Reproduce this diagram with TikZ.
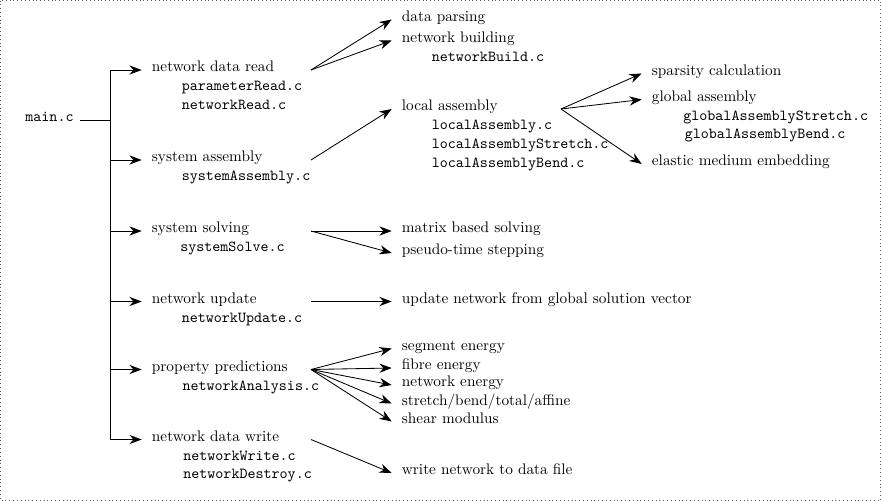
\documentclass[tikz,border=0pt]{standalone}
\usepackage{tikz}
\usetikzlibrary{arrows.meta}
\tikzset{
  task/.style={anchor=west, inner xsep=6.5pt, inner ysep=0pt, text height=5pt, text depth=3pt},
  srcfile/.style={anchor=base west, inner sep=0pt, font=\ttfamily},
  fwd/.style={-{Stealth[length=8pt, width=6pt]}, line width=0.55pt},
  trunkline/.style={line width=0.55pt},
  pageframe/.style={dotted, draw=black!65, line width=0.5pt},
}

\begin{document}
\begin{tikzpicture}[x=0.6536pt, y=-0.6536pt]
  \useasboundingbox (0,0) rectangle (881,501);
  \draw[pageframe] (0.5,0.5) rectangle (880.5,500.5);

  % main program
  \node[task, anchor=east, font=\ttfamily, inner xsep=4pt] (main) at (80,120) {main.c};
  \coordinate (trunk) at (110,120);
  \coordinate (forkline) at (311,0);
  \coordinate (subfork) at (561,0);

  % first level
  \node[task] (read) at (141.7,70) {network data read};
  \node[srcfile] (parread) at ([xshift=26pt,yshift=-12.4pt]read.base west) {parameterRead.c};
  \node[srcfile] (netread) at ([yshift=-12.4pt]parread.base west) {networkRead.c};

  \node[task] (assembly) at (141.7,160) {system assembly};
  \node[srcfile] (sysasm) at ([xshift=26pt,yshift=-12.4pt]assembly.base west) {systemAssembly.c};

  \node[task] (solve) at (141.7,231) {system solving};
  \node[srcfile] (syssolve) at ([xshift=25pt,yshift=-12.4pt]solve.base west) {systemSolve.c};

  \node[task] (update) at (141.7,301.5) {network update};
  \node[srcfile] (netupd) at ([xshift=26pt,yshift=-12.4pt]update.base west) {networkUpdate.c};

  \node[task] (predict) at (141.7,369.5) {property predictions};
  \node[srcfile] (netana) at ([xshift=26.5pt,yshift=-12.4pt]predict.base west) {networkAnalysis.c};

  \node[task] (write) at (141.7,439.5) {network data write};
  \node[srcfile] (netwrite) at ([xshift=27pt,yshift=-12.4pt]write.base west) {networkWrite.c};
  \node[srcfile] (netdestroy) at ([yshift=-12.4pt]netwrite.base west) {networkDestroy.c};

  % second level
  \node[task] (parse) at (391.7,19.5) {data parsing};
  \node[task] (build) at (391.7,40.5) {network building};
  \node[srcfile] (netbuild) at ([xshift=26pt,yshift=-12.4pt]build.base west) {networkBuild.c};

  \node[task] (local) at (391.7,109) {local assembly};
  \node[srcfile] (locasm) at ([xshift=26pt,yshift=-12.4pt]local.base west) {localAssembly.c};
  \node[srcfile] (locstretch) at ([yshift=-12.4pt]locasm.base west) {localAssemblyStretch.c};
  \node[srcfile] (locbend) at ([yshift=-12.4pt]locstretch.base west) {localAssemblyBend.c};

  \node[task] (matrix) at (391.7,231) {matrix based solving};
  \node[task] (pseudo) at (391.7,253) {pseudo-time stepping};

  \node[task] (updvec) at (391.7,301.5) {update network from global solution vector};

  \node[task] (segment) at (391.7,348.5) {segment energy};
  \node[task] (fibre) at (391.7,368) {fibre energy};
  \node[task] (netenergy) at (391.7,385) {network energy};
  \node[task] (moduli) at (391.7,403.5) {stretch/bend/total/affine};
  \node[task] (shear) at (391.7,421.5) {shear modulus};

  \node[task] (writefile) at (391.7,473) {write network to data file};

  % third level
  \node[task] (sparsity) at (641.7,73.5) {sparsity calculation};
  \node[task] (global) at (641.7,99.5) {global assembly};
  \node[srcfile] (globstretch) at ([xshift=27pt,yshift=-12.4pt]global.base west) {globalAssemblyStretch.c};
  \node[srcfile] (globbend) at ([xshift=1pt,yshift=-12.4pt]globstretch.base west) {globalAssemblyBend.c};
  \node[task] (elastic) at (641.7,164) {elastic medium embedding};

  % trunk
  \draw[trunkline] (main.east) -- (trunk);
  \draw[trunkline] (trunk |- read.west) -- (trunk |- write.west);
  \foreach \n in {read,assembly,solve,update,predict,write}
    \draw[fwd] (trunk |- \n.west) -- (\n.west);

  % branches
  \draw[fwd] (read.west -| forkline) -- (parse.west);
  \draw[fwd] (read.west -| forkline) -- (build.west);
  \draw[fwd] (assembly.west -| forkline) -- (local.west);
  \draw[fwd] (solve.west -| forkline) -- (matrix.west);
  \draw[fwd] (solve.west -| forkline) -- (pseudo.west);
  \draw[fwd] (update.west -| forkline) -- (updvec.west);
  \foreach \n in {segment,fibre,netenergy,moduli,shear}
    \draw[fwd] (predict.west -| forkline) -- (\n.west);
  \draw[fwd] (write.west -| forkline) -- (writefile.west);
  \foreach \n in {sparsity,global,elastic}
    \draw[fwd] (local.west -| subfork) -- (\n.west);
\end{tikzpicture}
\end{document}
